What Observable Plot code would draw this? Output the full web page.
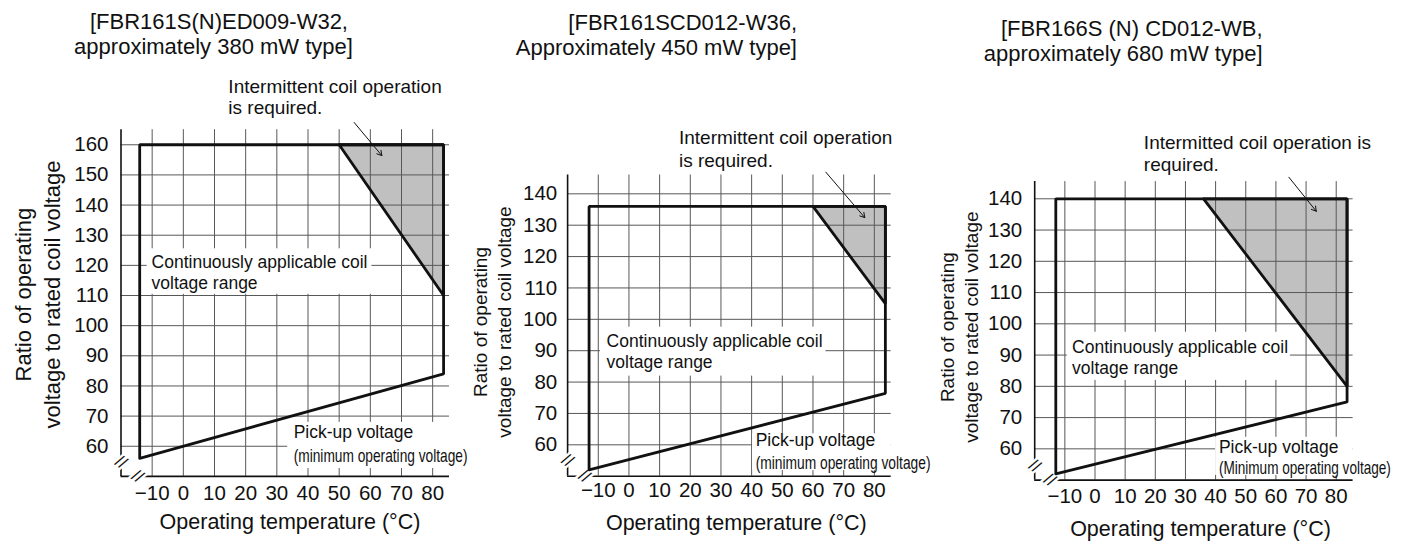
<!DOCTYPE html>
<html>
<head>
<meta charset="utf-8">
<script src="https://cdn.jsdelivr.net/npm/d3@7"></script>
<script src="https://cdn.jsdelivr.net/npm/@observablehq/plot@0.6"></script>
<style>
  body { margin: 0; background: #fff; }
  #root { position: relative; width: 1409px; height: 544px; overflow: hidden; background: #fff;
          font-family: "Liberation Sans", Arial, sans-serif; color: #111; }
  .panel { position: absolute; top: 0; }
  .panel svg { max-width: none !important; overflow: visible; }
  .title { position: absolute; font-size: 22px; line-height: 22px; white-space: nowrap; }
</style>
</head>
<body>
<div id="root"></div>
<script>
// ---------------- DATA ----------------
const xTicks = [-10, 0, 10, 20, 30, 40, 50, 60, 70, 80];
const yTicks380 = [60, 70, 80, 90, 100, 110, 120, 130, 140, 150, 160];
const yTicks450 = [60, 70, 80, 90, 100, 110, 120, 130, 140];
const yTicks680 = [60, 70, 80, 90, 100, 110, 120, 130, 140];

const title380 = ["[FBR161S(N)ED009-W32,", "approximately 380 mW type]"];
const title450 = ["[FBR161SCD012-W36,", "Approximately 450 mW type]"];
const title680 = ["[FBR166S (N) CD012-WB,", "approximately 680 mW type]"];

// Operating region outline (temperature °C, ratio %)
const outline380Temp  = [-14, -14, 83.5, 83.5, -14];
const outline380Ratio = [56, 160, 160, 84, 56];
const shade380Temp    = [50, 83.5, 83.5];
const shade380Ratio   = [160, 160, 110];

const outline450Temp  = [-13, -13, 83.6, 83.6, -13];
const outline450Ratio = [52, 136, 136, 76.4, 52];
const shade450Temp    = [60, 83.6, 83.6];
const shade450Ratio   = [136, 136, 105];

const outline680Temp  = [-13, -13, 83.6, 83.6, -13];
const outline680Ratio = [52, 140, 140, 75, 52];
const shade680Temp    = [36, 83.6, 83.6];
const shade680Ratio   = [140, 140, 80];

const yAxisTitle = "Ratio of operating\nvoltage to rated coil voltage";
const xAxisTitle = "Operating temperature (°C)";
const intermittent380 = "Intermittent coil operation\nis required.";
const intermittent450 = "Intermittent coil operation\nis required.";
const intermittent680 = "Intermitted coil operation is\nrequired.";
const continuousLabel = "Continuously applicable coil\nvoltage range";
const pickupLabel = "Pick-up voltage";
const minOp380 = "(minimum operating voltage)";
const minOp450 = "(minimum operating voltage)";
const minOp680 = "(Minimum operating voltage)";

// ---------------- RENDER ----------------
const pts = (t, r) => t.map((v, i) => ({t: v, r: r[i]}));
const root = document.getElementById("root");
const FONT = "'Liberation Sans', Arial, sans-serif";

const panels = [
  {
    left: 0, width: 470, title: title380, titleAlign: "center", titleX: [219, 213.5], titleTop: [10.5, 35.5],
    xDomain: [-20, 85.4], yDomain: [50, 165], yTicks: yTicks380,
    margin: {left: 120.5, right: 21, top: 129.2, bottom: 68.1}, xPad: 9, yPad: 12.5,
    outline: pts(outline380Temp, outline380Ratio), shade: pts(shade380Temp, shade380Ratio),
    yTitleSize: 22, yTitleLH: 1.29, yTitleD: [-84.6, -8.5], xTitleD: [4.7, 46],
    inter: {x: 14.45, y: 175.8, text: intermittent380, lh: 1.1},
    arrow: {x1: 54.8, y1: 167.4, x2: 63.7, y2: 156.4},
    contBox: {x1: -11.6, x2: 60.5, y1: 110.4, y2: 125.5}, cont: {x: -10.2, y: 118},
    pickBox: {x1: 33.5, x2: 85.4, y1: 52.6, y2: 67.9}, pick1: {x: 35.4, y: 64.6}, pick2: {x: 35.4, y: 56.9, text: minOp380},
    breakY: {x: -20, y: 54.7}, breakX: {x: -14.7, y: 50}, minOpWidth: 174
  },
  {
    left: 470, width: 470, title: title450, titleAlign: "right", titleX: [797, 797], titleTop: [11.5, 37],
    xDomain: [-20, 85.5], yDomain: [50, 146], yTicks: yTicks450,
    margin: {left: 97.1, right: 49.3, top: 174.5, bottom: 68.3}, xPad: 6, yPad: 10.4,
    outline: pts(outline450Temp, outline450Ratio), shade: pts(shade450Temp, shade450Ratio),
    yTitleSize: 19, yTitleLH: 1.29, yTitleD: [-76.35, -3.6], xTitleD: [6.9, 47.3],
    inter: {x: 16.3, y: 154.5, text: intermittent450, lh: 1.18},
    arrow: {x1: 64.2, y1: 146.9, x2: 76.9, y2: 132.4},
    contBox: {x1: -9.3, x2: 64.2, y1: 81.9, y2: 97.5}, cont: {x: -7.3, y: 90.1},
    pickBox: {x1: 40.3, x2: 85.5, y1: 51.8, y2: 63.5}, pick1: {x: 41.3, y: 61.4}, pick2: {x: 41.3, y: 54.2, text: minOp450},
    breakY: {x: -20, y: 55}, breakX: {x: -14.5, y: 50}, minOpWidth: 175
  },
  {
    left: 940, width: 469, title: title680, titleAlign: "right", titleX: [1262.5, 1262.5], titleTop: [17.5, 42.5],
    xDomain: [-20, 85.6], yDomain: [50, 145.5], yTicks: yTicks680,
    margin: {left: 94.2, right: 56.4, top: 181.1, bottom: 64.4}, xPad: 8.7, yPad: 12.5,
    outline: pts(outline680Temp, outline680Ratio), shade: pts(shade680Temp, shade680Ratio),
    yTitleSize: 19, yTitleLH: 1.25, yTitleD: [-76.55, -3.75], xTitleD: [6.6, 49.4],
    inter: {x: 16.2, y: 154.8, text: intermittent680, lh: 1.16},
    arrow: {x1: 64.3, y1: 146.9, x2: 73.4, y2: 136},
    contBox: {x1: -9.2, x2: 64.8, y1: 81.9, y2: 97.3}, cont: {x: -7.6, y: 89.6},
    pickBox: {x1: 40, x2: 85.6, y1: 51.5, y2: 63.7}, pick1: {x: 41.1, y: 60.4}, pick2: {x: 41.1, y: 53.9, text: minOp680},
    breakY: {x: -20, y: 54.5}, breakX: {x: -15, y: 50}, minOpWidth: 172
  }
];

const GRID = "#585858";
const INK = "#111";

for (const cfg of panels) {
  // Title (HTML, above the chart)
  cfg.title.forEach((s, i) => {
    const d = document.createElement("div");
    d.className = "title";
    d.textContent = s;
    d.style.top = cfg.titleTop[i] + "px";
    if (cfg.titleAlign === "center") {
      d.style.left = cfg.titleX[i] + "px";
      d.style.transform = "translateX(-50%)";
    } else {
      d.style.right = (1409 - cfg.titleX[i]) + "px";
    }
    root.appendChild(d);
  });

  const [x0, x1] = cfg.xDomain;
  const [y0, y1] = cfg.yDomain;
  const shadeClosed = [...cfg.shade, cfg.shade[0]];

  const chart = Plot.plot({
    width: cfg.width,
    height: 544,
    marginLeft: cfg.margin.left,
    marginRight: cfg.margin.right,
    marginTop: cfg.margin.top,
    marginBottom: cfg.margin.bottom,
    style: {fontFamily: FONT, fontSize: "20.5px", color: INK, background: "transparent", overflow: "visible"},
    x: {domain: cfg.xDomain, ticks: xTicks, tickSize: 0, tickPadding: cfg.xPad, label: null},
    y: {domain: cfg.yDomain, ticks: cfg.yTicks, tickSize: 0, tickPadding: cfg.yPad, label: null},
    marks: [
      // intermittent operation region
      Plot.line(cfg.shade, {x: "t", y: "r", fill: "#c0c0c0", stroke: "none"}),
      // grid
      Plot.ruleX(xTicks, {y1: y0, y2: y1, stroke: GRID, strokeWidth: 1}),
      Plot.ruleY(cfg.yTicks, {x1: x0, x2: x1, stroke: GRID, strokeWidth: 1}),
      // label backgrounds
      Plot.rect([cfg.contBox], {x1: "x1", x2: "x2", y1: "y1", y2: "y2", fill: "white"}),
      Plot.rect([cfg.pickBox], {x1: "x1", x2: "x2", y1: "y1", y2: "y2", fill: "white"}),
      // axis lines
      Plot.ruleX([x0], {y1: y0, y2: y1, stroke: INK, strokeWidth: 1.6}),
      Plot.ruleY([y0], {x1: x0, x2: x1, stroke: INK, strokeWidth: 1.6}),
      // axis breaks
      Plot.text([cfg.breakY, cfg.breakX], {x: "x", y: "y", text: () => "//", fontSize: 17, rotate: 35,
        fill: "white", stroke: "white", strokeWidth: 5}),
      Plot.text([cfg.breakY, cfg.breakX], {x: "x", y: "y", text: () => "//", fontSize: 17, rotate: 35, fill: INK}),
      // operating region outline and intermittent boundary
      Plot.line(shadeClosed, {x: "t", y: "r", stroke: INK, strokeWidth: 2.8, strokeLinejoin: "miter"}),
      Plot.line(cfg.outline, {x: "t", y: "r", stroke: INK, strokeWidth: 2.8, strokeLinejoin: "miter"}),
      // arrow
      Plot.arrow([cfg.arrow], {x1: "x1", y1: "y1", x2: "x2", y2: "y2", stroke: INK, strokeWidth: 1, headLength: 8}),
      // annotations
      Plot.text([cfg.inter], {x: "x", y: "y", text: "text", textAnchor: "start", lineAnchor: "middle",
        fontSize: 19, lineHeight: cfg.inter.lh, fill: INK}),
      Plot.text([cfg.cont], {x: "x", y: "y", text: () => continuousLabel, textAnchor: "start", lineAnchor: "middle",
        fontSize: 17.5, lineHeight: 1.2, fill: INK}),
      Plot.text([cfg.pick1], {x: "x", y: "y", text: () => pickupLabel, textAnchor: "start", lineAnchor: "middle",
        fontSize: 17.5, fill: INK}),
      Plot.text([cfg.pick2], {x: "x", y: "y", text: "text", textAnchor: "start", lineAnchor: "middle",
        fontSize: 18.5, fill: INK}),
      // axis titles
      Plot.text([yAxisTitle], {frameAnchor: "left", text: d => d, rotate: -90, dx: cfg.yTitleD[0], dy: cfg.yTitleD[1],
        textAnchor: "middle", lineAnchor: "middle", fontSize: cfg.yTitleSize, lineHeight: cfg.yTitleLH, fill: INK}),
      Plot.text([xAxisTitle], {frameAnchor: "bottom", text: d => d, dx: cfg.xTitleD[0], dy: cfg.xTitleD[1],
        textAnchor: "middle", lineAnchor: "middle", fontSize: 21.5, fill: INK})
    ]
  });

  const holder = document.createElement("div");
  holder.className = "panel";
  holder.style.left = cfg.left + "px";
  holder.style.width = cfg.width + "px";
  holder.appendChild(chart);
  root.appendChild(holder);

  // condense the "(minimum operating voltage)" note horizontally to its drawn width
  d3.select(chart).selectAll("text").each(function () {
    if (this.textContent === cfg.pick2.text) {
      const w = this.getComputedTextLength();
      const s = cfg.minOpWidth / w;
      const t = this.getAttribute("transform") || "";
      this.setAttribute("transform", `${t} scale(${s.toFixed(4)},1)`);
    }
  });
}
</script>
</body>
</html>
